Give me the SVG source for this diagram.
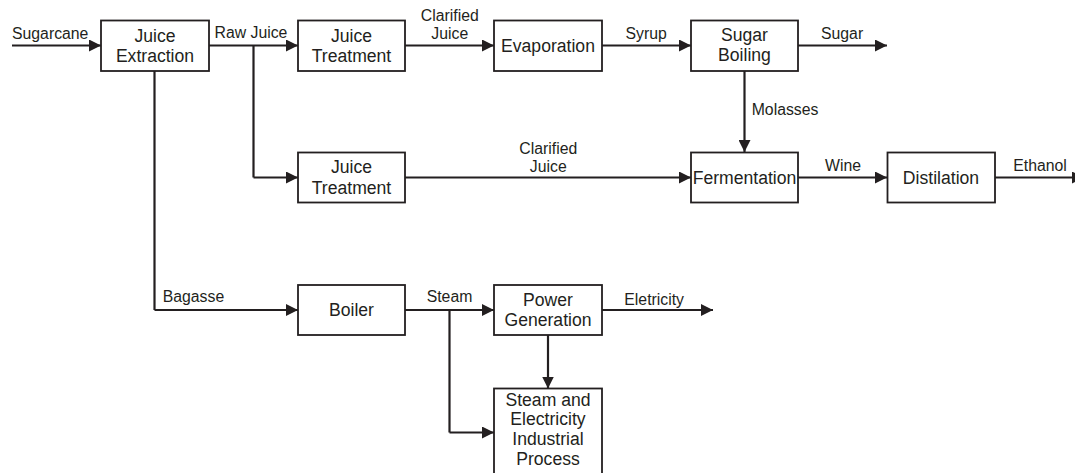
<svg xmlns="http://www.w3.org/2000/svg" width="1075" height="473" viewBox="0 0 1075 473">
<defs>
<marker id="ah" markerUnits="userSpaceOnUse" markerWidth="12" markerHeight="12" refX="12" refY="6" orient="auto" viewBox="0 0 12 12">
<path d="M0,0 L12,6 L0,12 Z" fill="#231f20"/>
</marker>
<style>
.box{fill:#fff;stroke:#231f20;stroke-width:1.8}
.n{font-family:"Liberation Sans",Arial,sans-serif;font-size:17.6px;fill:#231f20;text-anchor:middle}
.e{font-family:"Liberation Sans",Arial,sans-serif;font-size:15.8px;fill:#231f20}
.c{fill:none;stroke:#231f20;stroke-width:2.2}
.a{marker-end:url(#ah)}
</style>
</defs>
<rect width="1075" height="473" fill="#fff"/>
<g id="connectors">
<path class="c a" d="M12,45.5 H101"/>
<path class="c a" d="M209,45.5 H298"/>
<path class="c" d="M253.5,45.5 V177.5"/>
<path class="c a" d="M253.5,177.5 H298"/>
<path class="c a" d="M405,45.5 H494"/>
<path class="c a" d="M602,45.5 H691"/>
<path class="c a" d="M798,45.5 H887"/>
<path class="c a" d="M744.5,71 V152"/>
<path class="c a" d="M405,177.5 H691"/>
<path class="c a" d="M798,177.5 H887"/>
<path class="c a" d="M995,177.5 H1084"/>
<path class="c" d="M154.5,71 V310"/>
<path class="c a" d="M154.5,310 H298"/>
<path class="c a" d="M405,310 H494"/>
<path class="c" d="M449.5,310 V432.5"/>
<path class="c a" d="M449.5,432.5 H494"/>
<path class="c a" d="M602,310 H713"/>
<path class="c a" d="M548,335 V388.5"/>
<text class="e" x="12" y="39.3">Sugarcane</text>
<text class="e" x="214.5" y="37.7">Raw Juice</text>
<text class="e" x="449.8" y="20.7" text-anchor="middle">Clarified</text>
<text class="e" x="449.8" y="39" text-anchor="middle">Juice</text>
<text class="e" x="625.5" y="39.3">Syrup</text>
<text class="e" x="821" y="39">Sugar</text>
<text class="e" x="751.7" y="115">Molasses</text>
<text class="e" x="548.3" y="154" text-anchor="middle">Clarified</text>
<text class="e" x="548.3" y="172.3" text-anchor="middle">Juice</text>
<text class="e" x="825" y="171.3">Wine</text>
<text class="e" x="1013.3" y="171.3">Ethanol</text>
<text class="e" x="162.7" y="302.3">Bagasse</text>
<text class="e" x="426.7" y="302.3">Steam</text>
<text class="e" x="624.3" y="304.7">Eletricity</text>
</g>
<g id="juice-extraction">
<rect class="box" x="101" y="20.5" width="108" height="50.5"/>
<text class="n" x="155" y="41.8">Juice</text>
<text class="n" x="155" y="62.3">Extraction</text>
</g>
<g id="juice-treatment-1">
<rect class="box" x="298" y="20.5" width="107" height="50.5"/>
<text class="n" x="351.5" y="41.8">Juice</text>
<text class="n" x="351.5" y="62.3">Treatment</text>
</g>
<g id="evaporation">
<rect class="box" x="494" y="20.5" width="108" height="50.5"/>
<text class="n" x="548" y="51.5">Evaporation</text>
</g>
<g id="sugar-boiling">
<rect class="box" x="691" y="20.5" width="107" height="50.5"/>
<text class="n" x="744.5" y="40.5">Sugar</text>
<text class="n" x="744.5" y="61">Boiling</text>
</g>
<g id="juice-treatment-2">
<rect class="box" x="298" y="152.5" width="107" height="50"/>
<text class="n" x="351.5" y="173.3">Juice</text>
<text class="n" x="351.5" y="194">Treatment</text>
</g>
<g id="fermentation">
<rect class="box" x="691" y="152.5" width="107" height="50"/>
<text class="n" x="744.5" y="184.3">Fermentation</text>
</g>
<g id="distilation">
<rect class="box" x="887.5" y="152.5" width="107.5" height="50"/>
<text class="n" x="941" y="184.3">Distilation</text>
</g>
<g id="boiler">
<rect class="box" x="298" y="285" width="107" height="50"/>
<text class="n" x="351.5" y="316">Boiler</text>
</g>
<g id="power-generation">
<rect class="box" x="494" y="285" width="108" height="50"/>
<text class="n" x="548" y="305.7">Power</text>
<text class="n" x="548" y="326">Generation</text>
</g>
<g id="steam-electricity-process">
<rect class="box" x="494" y="388.5" width="108" height="90"/>
<text class="n" x="548" y="405.7">Steam and</text>
<text class="n" x="548" y="425.3">Electricity</text>
<text class="n" x="548" y="445.3">Industrial</text>
<text class="n" x="548" y="464.5">Process</text>
</g>
</svg>
